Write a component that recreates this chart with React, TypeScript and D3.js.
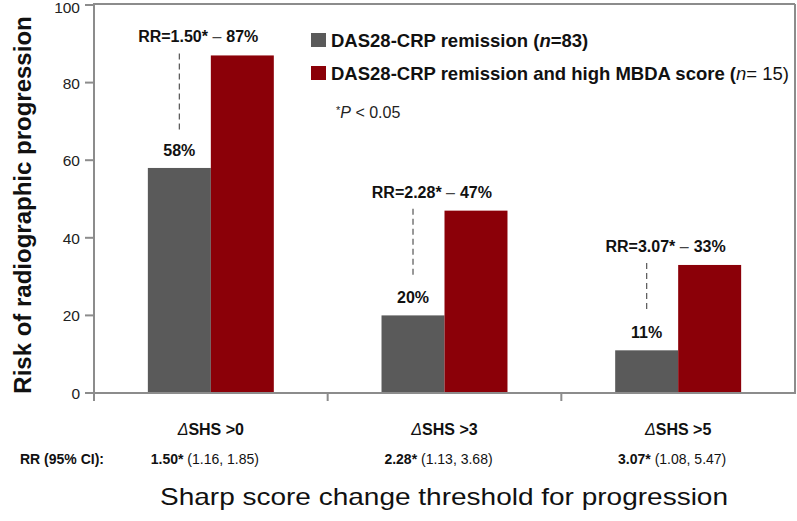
import React from "react";
import * as d3 from "d3";

const thresholds = [">0", ">3", ">5"];
const remission = [58, 20, 11];
const highMbda = [87, 47, 33];
const rrValues = ["1.50", "2.28", "3.07"];
const ciLow = ["1.16", "1.13", "1.08"];
const ciHigh = ["1.85", "3.68", "5.47"];
const yTicks = [0, 20, 40, 60, 80, 100];
const seriesKeys = ["remission", "high"];
const seriesNames = ["DAS28-CRP remission", "DAS28-CRP remission and high MBDA score"];
const seriesN = ["83", " 15"];

const W = 797;
const H = 521;
const GRAY = "#5a5a5a";
const RED = "#8b0008";
const AXIS = "#8c8c8c";
const FONT = "'Liberation Sans', Arial, Helvetica, sans-serif";

export default function App() {
  const x = d3.scaleBand<string>().domain(thresholds).range([94, 795]).paddingInner(0).paddingOuter(0);
  const xs = d3.scaleBand<string>().domain(seriesKeys).range([0, x.bandwidth()]).paddingInner(0).paddingOuter(0.855);
  const y = d3.scaleLinear().domain([0, 100]).range([393, 5]);
  const bw = xs.bandwidth();
  const left = 94;
  const right = 795;
  const top = y(100);
  const bottom = y(0);

  return (
    <svg width={W} height={H} style={{ position: "absolute", left: 0, top: 0, background: "#fff" }} fontFamily={FONT}>
      {/* frame */}
      <line x1={left} x2={right} y1={top - 1} y2={top - 1} stroke={AXIS} strokeWidth={2} />
      <line x1={right} x2={right} y1={top - 1} y2={bottom} stroke={AXIS} strokeWidth={2} />
      {/* bars */}
      {thresholds.map((t, i) => {
        const x0 = x(t)!;
        return (
          <g key={t}>
            <rect x={x0 + xs("remission")!} y={y(remission[i])} width={bw} height={bottom - y(remission[i])} fill={GRAY} />
            <rect x={x0 + xs("high")!} y={y(highMbda[i])} width={bw} height={bottom - y(highMbda[i])} fill={RED} />
          </g>
        );
      })}
      {/* axes */}
      <line x1={left} x2={left} y1={top - 2} y2={bottom + 8} stroke={AXIS} strokeWidth={2} />
      <line x1={left - 9} x2={right + 1} y1={bottom} y2={bottom} stroke={AXIS} strokeWidth={2} />
      {yTicks.map((v) => (
        <g key={v}>
          <line x1={left - 9} x2={left} y1={y(v)} y2={y(v)} stroke={AXIS} strokeWidth={2} />
          <text x={80} y={Math.max(y(v) + 6, 13)} textAnchor="end" fontSize={15.5} fill="#222">{v}</text>
        </g>
      ))}
      {thresholds.slice(1).map((t) => (
        <line key={t} x1={x(t)!} x2={x(t)!} y1={bottom} y2={bottom + 8} stroke={AXIS} strokeWidth={2} />
      ))}
      {/* value labels and annotations */}
      {thresholds.map((t, i) => {
        const x0 = x(t)!;
        const gc = x0 + xs("remission")! + bw / 2;
        const rc = x0 + xs("high")! + bw / 2;
        const rTop = y(highMbda[i]);
        const gTop = y(remission[i]);
        const rrBase = rTop - 13;
        const gBase = gTop - 12;
        return (
          <g key={t} fontWeight="bold" fontSize={16} fill="#111">
            <text x={rc} y={rrBase} textAnchor="middle">{highMbda[i]}%</text>
            <text x={rc - 21} y={rrBase} textAnchor="end">
              RR=
              <tspan>{rrValues[i]}*</tspan>
              <tspan fontWeight="normal" fill="#444">{"  \u2013"}</tspan>
            </text>
            <text x={gc} y={gBase} textAnchor="middle">{remission[i]}%</text>
            <line x1={gc} x2={gc} y1={rrBase + 11} y2={gBase - 26} stroke="#555" strokeWidth={1.2} strokeDasharray="6,4" />
          </g>
        );
      })}
      {/* legend */}
      {seriesKeys.map((k, i) => (
        <g key={k}>
          <rect x={311} y={33 + i * 33} width={15} height={14} fill={i === 0 ? GRAY : RED} />
          <text x={331} y={47 + i * 33} fontSize={18.5} fontWeight="bold" fill="#111">
            {seriesNames[i] + " ("}
            <tspan fontStyle="italic" fontWeight={i === 0 ? "bold" : "normal"}>n</tspan>
            <tspan fontWeight={i === 0 ? "bold" : "normal"}>{"=" + seriesN[i] + ")"}</tspan>
          </text>
        </g>
      ))}
      <text x={336} y={118} fontSize={16} fill="#222">
        <tspan fontSize={11} dy={-4}>*</tspan>
        <tspan fontStyle="italic" dy={4}>P</tspan>
        {" < 0.05"}
      </text>
      {/* x category labels */}
      {thresholds.map((t, i) => {
        const c = x(t)! + x.bandwidth() / 2;
        return (
          <g key={t}>
            <text x={c} y={435} textAnchor="middle" fontSize={16} fontWeight="bold" fill="#111">
              <tspan fontStyle="italic" fontWeight="normal">Δ</tspan>
              {"SHS " + t}
            </text>
            <text x={c - 6} y={464} textAnchor="middle" fontSize={14} fill="#111">
              <tspan fontWeight="bold">{rrValues[i] + "*"}</tspan>
              {" (" + ciLow[i] + ", " + ciHigh[i] + ")"}
            </text>
          </g>
        );
      })}
      <text x={20} y={464} fontSize={14} fontWeight="bold" fill="#111">RR (95% CI):</text>
      {/* axis titles */}
      <text x={444} y={505} textAnchor="middle" fontSize={24} textLength={568} lengthAdjust="spacingAndGlyphs" fill="#111">
        Sharp score change threshold for progression
      </text>
      <text transform={`translate(31, 205) rotate(-90)`} textAnchor="middle" fontSize={24} fontWeight="bold" fill="#111">
        Risk of radiographic progression
      </text>
    </svg>
  );
}
